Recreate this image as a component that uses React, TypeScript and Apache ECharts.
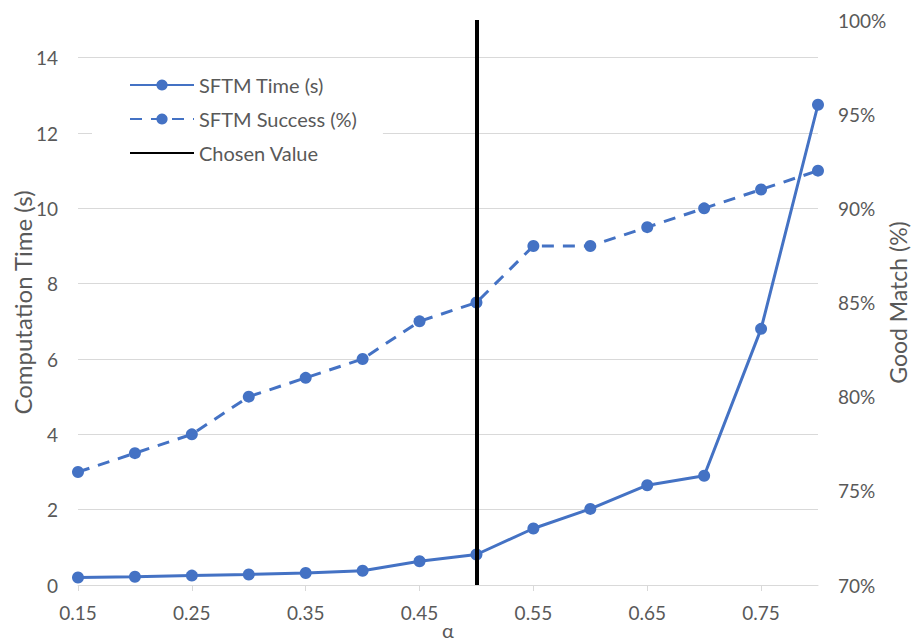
import React, { useEffect, useRef } from "react";
import * as echarts from "echarts";

const alphas = ["0.15", "0.2", "0.25", "0.3", "0.35", "0.4", "0.45", "0.5", "0.55", "0.6", "0.65", "0.7", "0.75", "0.8"];
const timeSeconds = [0.2, 0.22, 0.25, 0.28, 0.32, 0.38, 0.63, 0.81, 1.5, 2.02, 2.65, 2.9, 6.8, 12.75];
const successPct = [76, 77, 78, 80, 81, 82, 84, 85, 88, 88, 89, 90, 91, 92];
const chosenAlpha = "0.5";

const BLUE = "#4472C4";
const TEXT = "#595959";
const GRID = "#d9d9d9";
const FONT = "Lato, 'Open Sans', sans-serif";

export default function App() {
  const ref = useRef<HTMLDivElement>(null);
  useEffect(() => {
    if (!ref.current) return;
    const chart = echarts.init(ref.current, undefined, { renderer: "svg" });
    chart.setOption({
      animation: false,
      textStyle: { fontFamily: FONT },
      grid: { left: 78, right: 94, top: 20, bottom: 58, containLabel: false, outerBoundsMode: "none" },
      legend: {
        orient: "vertical",
        left: 92,
        top: 67,
        padding: [8, 26, 8, 37],
        backgroundColor: "#ffffff",
        itemWidth: 64,
        itemHeight: 14,
        itemGap: 14,
        textStyle: { color: TEXT, fontSize: 20, fontFamily: FONT },
        data: [
          "SFTM Time (s)",
          "SFTM Success (%)",
          { name: "Chosen Value", itemStyle: { opacity: 0 } },
        ],
      },
      xAxis: {
        type: "category",
        data: alphas,
        boundaryGap: false,
        name: "α",
        nameLocation: "middle",
        nameGap: 35,
        nameMoveOverlap: false,
        nameTextStyle: { color: TEXT, fontSize: 20, fontFamily: FONT, lineHeight: 20 },
        axisLine: { lineStyle: { color: GRID, width: 1 } },
        axisTick: { show: true, interval: 1, length: 6, lineStyle: { color: GRID } },
        axisLabel: { interval: 1, color: TEXT, fontSize: 19, margin: 18, fontFamily: FONT },
        splitLine: { show: false },
      },
      yAxis: [
        {
          type: "value",
          min: 0,
          max: 15,
          interval: 2,
          name: "Computation Time (s)",
          nameLocation: "middle",
          nameRotate: 90,
          nameGap: 44,
          nameMoveOverlap: false,
          nameTextStyle: { color: TEXT, fontSize: 24, fontFamily: FONT, lineHeight: 24 },
          axisLine: { show: false },
          axisTick: { show: false },
          axisLabel: {
            color: TEXT,
            fontSize: 19,
            margin: 20,
            fontFamily: FONT,
            showMaxLabel: false,
            formatter: (v: number) => (v > 14 ? "" : String(v)),
          },
          splitLine: { show: true, showMaxLine: false, lineStyle: { color: GRID, width: 1 } },
        },
        {
          type: "value",
          min: 70,
          max: 100,
          interval: 5,
          position: "right",
          name: "Good Match (%)",
          nameLocation: "middle",
          nameRotate: 90,
          nameGap: 68,
          nameMoveOverlap: false,
          nameTextStyle: { color: TEXT, fontSize: 23, fontFamily: FONT, lineHeight: 23 },
          axisLine: { show: false },
          axisTick: { show: false },
          axisLabel: { color: TEXT, fontSize: 19, margin: 20, fontFamily: FONT, formatter: "{value}%" },
          splitLine: { show: false },
        },
      ],
      series: [
        {
          name: "SFTM Time (s)",
          type: "line",
          yAxisIndex: 0,
          data: timeSeconds,
          symbol: "circle",
          symbolSize: 12,
          itemStyle: { color: BLUE },
          lineStyle: { color: BLUE, width: 3 },
          z: 3,
        },
        {
          name: "SFTM Success (%)",
          type: "line",
          yAxisIndex: 1,
          data: successPct,
          symbol: "circle",
          symbolSize: 12,
          itemStyle: { color: BLUE },
          lineStyle: { color: BLUE, width: 3, type: [12, 9] },
          z: 3,
        },
        {
          name: "Chosen Value",
          type: "line",
          yAxisIndex: 0,
          data: [],
          symbol: "none",
          itemStyle: { color: "#000000" },
          lineStyle: { color: "#000000", width: 3 },
          markLine: {
            silent: true,
            symbol: ["none", "none"],
            label: { show: false },
            lineStyle: { color: "#000000", width: 4, type: "solid" },
            data: [{ xAxis: chosenAlpha }],
          },
          z: 4,
        },
      ],
    });
    return () => chart.dispose();
  }, []);
  return (
    <div
      ref={ref}
      style={{ position: "fixed", left: 0, top: 0, width: 912, height: 643, background: "#ffffff" }}
    />
  );
}
